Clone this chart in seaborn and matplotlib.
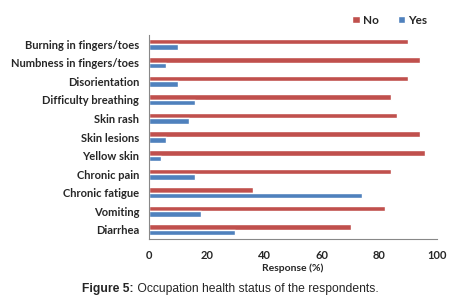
import matplotlib
matplotlib.use("Agg")
import matplotlib.pyplot as plt
import seaborn as sns
import pandas as pd

categories = ["Burning in fingers/toes", "Numbness in fingers/toes", "Disorientation",
              "Difficulty breathing", "Skin rash", "Skin lesions", "Yellow skin",
              "Chronic pain", "Chronic fatigue", "Vomiting", "Diarrhea"]
no_values = [90, 94, 90, 84, 86, 94, 96, 84, 36, 82, 70]
yes_values = [10, 6, 10, 16, 14, 6, 4, 16, 74, 18, 30]
series = ["No", "Yes"]
x_ticks = [0, 20, 40, 60, 80, 100]

df = pd.DataFrame({
    "Symptom": categories * 2,
    "Response": no_values + yes_values,
    "Answer": ["No"] * len(categories) + ["Yes"] * len(categories),
})

sns.set_style("white")
plt.rcParams["font.family"] = ["Lato", "DejaVu Sans"]

fig = plt.figure(figsize=(4.77, 3.07), dpi=100)
ax = fig.add_axes([149/477, 1-239/307, (437-149)/477, (239-35)/307])

sns.barplot(data=df, y="Symptom", x="Response", hue="Answer", order=categories,
            hue_order=series, palette={"No": "#C0504D", "Yes": "#4F81BD"},
            width=0.6, orient="h", ax=ax, saturation=1, legend=True)

ax.set_xlim(0, 100)
ax.set_xticks(x_ticks)
ax.set_xticklabels([str(t) for t in x_ticks], fontsize=8, fontweight="bold")
ax.set_yticks(range(len(categories)))
ax.set_yticklabels(categories, fontsize=8, fontweight="bold")
ax.set_ylabel("")
ax.set_xlabel("Response (%)", fontsize=7.5, fontweight="bold", labelpad=2)
ax.tick_params(axis="x", direction="in", length=3, width=0.8, color="#888888", pad=8)
ax.tick_params(axis="y", length=0, pad=7)
for s in ["top", "right"]:
    ax.spines[s].set_visible(False)
for s in ["left", "bottom"]:
    ax.spines[s].set_color("#888888")
    ax.spines[s].set_linewidth(0.8)

leg = ax.legend(loc="lower right", bbox_to_anchor=(1.0, 1.0), ncol=2, frameon=False,
                fontsize=8.5, handlelength=0.6, handleheight=0.6, columnspacing=1.6,
                handletextpad=0.3, borderaxespad=0.4)
for t in leg.get_texts():
    t.set_fontweight("bold")

t1 = fig.text(82/477, 1-295/307, "Figure 5:", fontsize=8.7, fontweight="bold",
              family=["Liberation Sans", "DejaVu Sans"], ha="left", va="bottom")
ax.annotate(" Occupation health status of the respondents.", xy=(1, 0), xycoords=t1,
            fontsize=8.7, family=["Liberation Sans", "DejaVu Sans"], ha="left", va="bottom",
            annotation_clip=False)

fig.savefig("out.png", dpi=100)
